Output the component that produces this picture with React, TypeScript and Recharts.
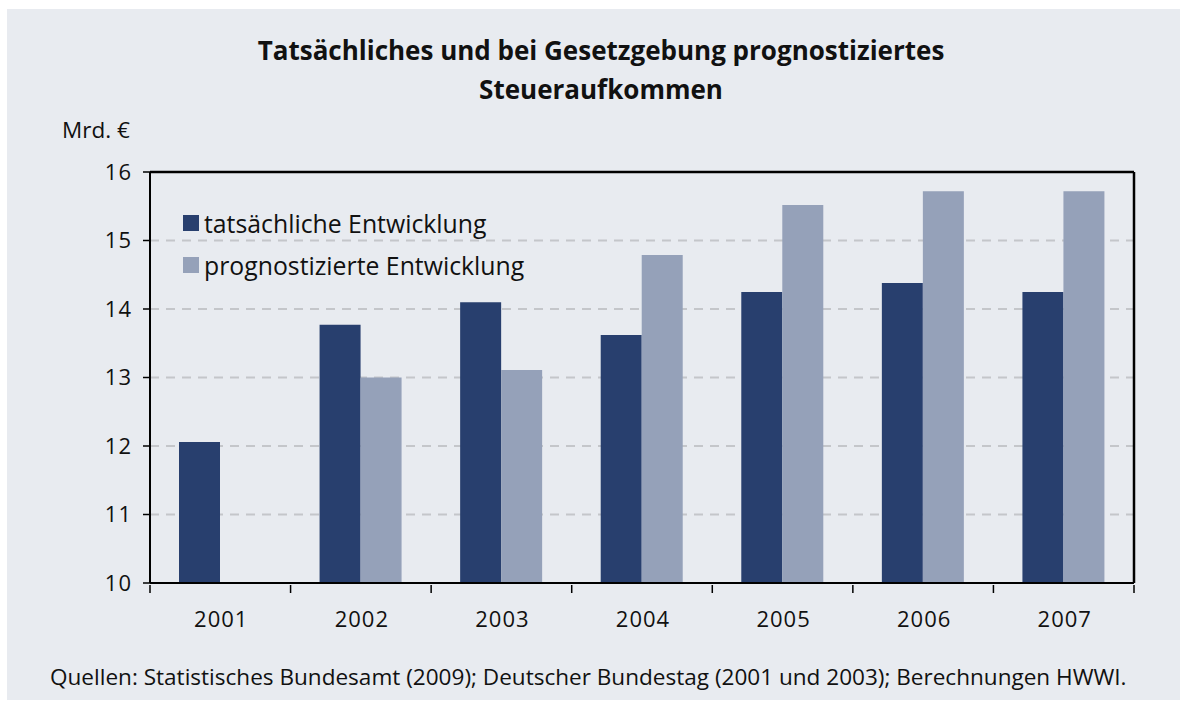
import React from "react";
import { BarChart, Bar, XAxis, YAxis, CartesianGrid, ReferenceLine } from "recharts";

const years = ["2001", "2002", "2003", "2004", "2005", "2006", "2007"];
const actual = [12.06, 13.77, 14.1, 13.62, 14.25, 14.38, 14.25];
const forecast = [null, 13.0, 13.11, 14.79, 15.52, 15.72, 15.72];
const yTicks = [10, 11, 12, 13, 14, 15, 16];

const DARK = "#283f6e";
const LIGHT = "#95a1b9";
const BG = "#e8ebf0";
const FONT = "'Open Sans', sans-serif";

const W = 1187;
const H = 711;
const PLOT_LEFT = 150;
const PLOT_RIGHT = 1134;
const PLOT_TOP = 172;
const PLOT_BOTTOM = 583;
const BAND = (PLOT_RIGHT - PLOT_LEFT) / years.length;

const data = years.map((year, i) => ({ year, actual: actual[i], forecast: forecast[i] }));

function XTick(props: any) {
  const { x, y, payload, index } = props;
  const left = x - BAND / 2;
  return (
    <g>
      <line x1={left} y1={y} x2={left} y2={y + 8} stroke="#000" strokeWidth={1.5} />
      {index === years.length - 1 && (
        <line x1={x + BAND / 2} y1={y} x2={x + BAND / 2} y2={y + 8} stroke="#000" strokeWidth={1.5} />
      )}
      <text x={x + 1} y={y + 42} textAnchor="middle" fontSize={22} letterSpacing={1} fill="#111" fontFamily={FONT}>
        {payload.value}
      </text>
    </g>
  );
}

function LegendBox() {
  const items = [
    { label: "tatsächliche Entwicklung", color: DARK },
    { label: "prognostizierte Entwicklung", color: LIGHT },
  ];
  return (
    <div style={{ position: "absolute", left: 183, top: 202, fontFamily: FONT, fontSize: 24.8, color: "#111" }}>
      {items.map((it) => (
        <div key={it.label} style={{ display: "flex", alignItems: "center", height: 42 }}>
          <span style={{ display: "inline-block", width: 16, height: 16, background: it.color, marginRight: 5 }} />
          <span>{it.label}</span>
        </div>
      ))}
    </div>
  );
}

export default function App() {
  return (
    <div style={{ position: "fixed", left: 0, top: 0, width: W, height: H, background: "#fff", fontFamily: FONT }}>
      <div style={{ position: "absolute", left: 7, top: 9, width: 1173, height: 691, background: BG }} />
      <div
        style={{
          position: "absolute",
          left: 0,
          top: 31,
          width: 1202,
          textAlign: "center",
          fontSize: 26,
          fontWeight: 700,
          lineHeight: "39px",
          color: "#111",
        }}
      >
        Tatsächliches und bei Gesetzgebung prognostiziertes
        <br />
        Steueraufkommen
      </div>
      <div style={{ position: "absolute", left: 62, top: 114, fontSize: 22.5, color: "#111" }}>Mrd. €</div>
      <div style={{ position: "absolute", left: 50, top: 661, fontSize: 22.55, color: "#111" }}>
        Quellen: Statistisches Bundesamt (2009); Deutscher Bundestag (2001 und 2003); Berechnungen HWWI.
      </div>
      <div style={{ position: "absolute", left: 0, top: 0 }}>
        <BarChart
          width={W}
          height={H}
          data={data}
          margin={{ left: PLOT_LEFT - 60, right: W - PLOT_RIGHT - 1, top: PLOT_TOP, bottom: H - PLOT_BOTTOM - 60 }}
          barGap={0}
          barSize={41}
        >
          <CartesianGrid vertical={false} stroke="#c4c6ca" strokeWidth={2} strokeDasharray="9 7" />
          <XAxis
            dataKey="year"
            height={60}
            axisLine={{ stroke: "#000", strokeWidth: 2 }}
            tickLine={false}
            tickSize={0}
            tick={<XTick />}
            interval={0}
          />
          <YAxis
            width={60}
            domain={[10, 16]}
            ticks={yTicks}
            allowDataOverflow
            axisLine={{ stroke: "#000", strokeWidth: 2 }}
            tickLine={{ stroke: "#000", strokeWidth: 1.5 }}
            tickSize={7}
            tickMargin={11}
            tick={{ fontSize: 22, fill: "#111", fontFamily: FONT, letterSpacing: 1 }}
          />
          <YAxis
            yAxisId="right"
            orientation="right"
            width={1}
            domain={[10, 16]}
            axisLine={{ stroke: "#000", strokeWidth: 2.5 }}
            tick={false}
            tickLine={false}
          />
          <ReferenceLine y={16} stroke="#000" strokeWidth={2.5} />
          <Bar dataKey="actual" fill={DARK} isAnimationActive={false} />
          <Bar dataKey="forecast" fill={LIGHT} isAnimationActive={false} />
        </BarChart>
      </div>
      <LegendBox />
    </div>
  );
}
